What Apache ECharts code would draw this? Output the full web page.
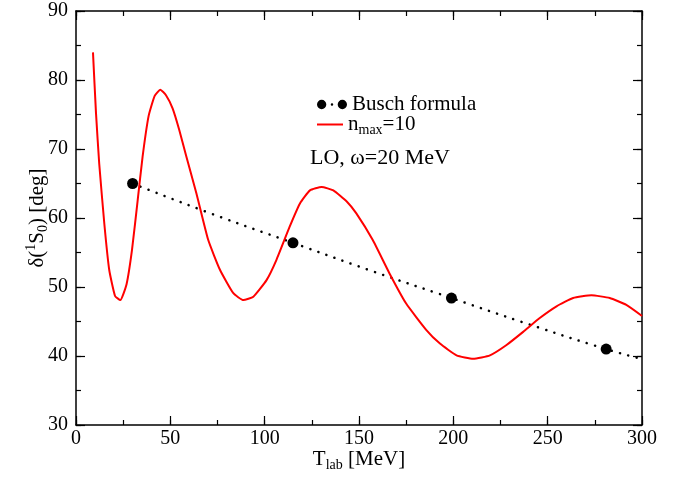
<!DOCTYPE html>
<html>
<head>
<meta charset="utf-8">
<script src="https://cdn.jsdelivr.net/npm/echarts@6/dist/echarts.min.js"></script>
<style>
  html, body { margin: 0; padding: 0; background: #fff; }
  #chart { width: 689px; height: 478px; }
</style>
</head>
<body>
<div id="chart"></div>
<script>
// n_max = 10 curve
const nmaxX = [9, 10.6, 12.3, 15, 17.6, 20.7, 23.5, 26.8, 29.7, 32.7, 35.3, 38.5, 41.7, 44.7, 47.7, 51.2, 54.7, 58.3, 63.8, 70.1, 76.3, 83.4, 88.7, 94, 101, 106.2, 113.2, 118.7, 124, 130.2, 136.4, 143.5, 148.5, 157.3, 166.1, 175, 185.6, 192.9, 201.7, 210.5, 219.4, 228.2, 237, 245.8, 254.7, 263.5, 273.2, 282.9, 291.7, 300];
const nmaxY = [84, 75.2, 67.9, 59.2, 52.5, 48.7, 48.1, 50.4, 55.4, 62.6, 68.9, 74.8, 77.7, 78.6, 77.8, 75.9, 72.8, 69.1, 63.6, 56.8, 52.5, 49.1, 48.1, 48.6, 51, 53.9, 58.7, 62.1, 64, 64.5, 64, 62.4, 60.7, 56.8, 52, 47.6, 43.8, 41.8, 40.1, 39.6, 40.1, 41.6, 43.5, 45.5, 47.2, 48.4, 48.8, 48.4, 47.4, 45.8];

// Busch formula (dotted curve + marked points)
const buschX = [30, 72, 115, 157, 199, 240, 281, 298];
const buschY = [65, 60.6, 56.4, 52.3, 48.4, 44.6, 41, 39.7];
const pointX = [30, 115, 199, 281];
const pointY = [65, 56.4, 48.4, 41];

const xTicks = [0, 50, 100, 150, 200, 250, 300];
const yTicks = [30, 40, 50, 60, 70, 80, 90];

const zip = (xs, ys) => xs.map((x, i) => [x, ys[i]]);

const font = 'Liberation Serif';
const twoDots = 'path://M0.5,5a4.5,4.5 0 1,0 9,0a4.5,4.5 0 1,0 -9,0Z M13.8,5a1.2,1.2 0 1,0 2.4,0a1.2,1.2 0 1,0 -2.4,0Z M20.5,5a4.5,4.5 0 1,0 9,0a4.5,4.5 0 1,0 -9,0Z';

// one axis per side and tick size; only the first x/y axis carries labels
function frameAxis(pos, min, max, interval, tickLen, showLine) {
    return {
        type: 'value',
        position: pos,
        min: min, max: max, interval: interval,
        axisLine: { show: showLine, onZero: false, lineStyle: { color: '#000', width: 1.5 } },
        axisTick: { show: true, inside: true, length: tickLen, lineStyle: { color: '#000', width: 1.2 } },
        axisLabel: { show: false },
        splitLine: { show: false }
    };
}

const xMain = frameAxis('bottom', 0, 300, 50, 9, true);
Object.assign(xMain, {
    name: '{a|T}{s|lab}{a| [MeV]}',
    nameLocation: 'middle',
    nameGap: 21,
    nameMoveOverlap: false,
    nameTextStyle: {
        rich: {
            a: { fontFamily: font, fontSize: 21, color: '#000' },
            s: { fontFamily: font, fontSize: 14, color: '#000', padding: [12, 0, 0, 0] }
        }
    },
    axisLabel: {
        show: true, fontFamily: font, fontSize: 20, color: '#000', margin: 4,
        formatter: v => xTicks.includes(v) ? String(v) : ''
    }
});

const yMain = frameAxis('left', 30, 90, 10, 9, true);
Object.assign(yMain, {
    name: '{a|δ(}{p|1}{a|S}{s|0}{a|) [deg]}',
    nameLocation: 'middle',
    nameGap: 26,
    nameMoveOverlap: false,
    nameTextStyle: {
        rich: {
            a: { fontFamily: font, fontSize: 21, color: '#000' },
            p: { fontFamily: font, fontSize: 14, color: '#000', padding: [0, 0, 12, 0] },
            s: { fontFamily: font, fontSize: 14, color: '#000', padding: [12, 0, 0, 0] }
        }
    },
    axisLabel: {
        show: true, fontFamily: font, fontSize: 20, color: '#000', margin: 8,
        formatter: v => yTicks.includes(v) ? String(v) : ''
    }
});

const myChart = echarts.init(document.getElementById('chart'));
const option = {
    backgroundColor: '#fff',
    animation: false,
    grid: { left: 76, right: 47, top: 11, bottom: 53, outerBoundsMode: 'none' },
    legend: [
        {
            left: 312, top: 89,
            itemWidth: 30, itemHeight: 10,
            data: [{ name: 'Busch formula', icon: twoDots }],
            textStyle: { fontFamily: font, fontSize: 21, color: '#000' }
        },
        {
            left: 312, top: 109,
            itemWidth: 26, itemHeight: 2,
            data: [{ name: 'nmax', icon: 'rect' }],
            formatter: () => '{a|n}{s|max}{a|=10}',
            textStyle: {
                fontFamily: font,
                color: '#000',
                rich: {
                    a: { fontFamily: font, fontSize: 21, color: '#000' },
                    s: { fontFamily: font, fontSize: 14, color: '#000', padding: [12, 0, 0, 0] }
                }
            }
        }
    ],
    graphic: [{
        type: 'text',
        left: 310,
        top: 147,
        style: { text: 'LO, ω=20 MeV', fontFamily: font, fontSize: 22, fill: '#000' }
    }],
    xAxis: [
        xMain,
        frameAxis('top', 0, 300, 50, 9, true),
        frameAxis('bottom', 0, 300, 25, 5, false),
        frameAxis('top', 0, 300, 25, 5, false)
    ],
    yAxis: [
        yMain,
        frameAxis('right', 30, 90, 10, 9, true),
        frameAxis('left', 30, 90, 5, 5, false),
        frameAxis('right', 30, 90, 5, 5, false)
    ],
    series: [
        {
            name: 'busch-line',
            type: 'line',
            data: zip(buschX, buschY),
            smooth: true,
            symbol: 'none',
            lineStyle: { color: '#000', width: 2.5, type: [0.1, 8.5], cap: 'round' },
            z: 2
        },
        {
            name: 'Busch formula',
            type: 'scatter',
            data: zip(pointX, pointY),
            symbol: 'circle',
            symbolSize: 11,
            itemStyle: { color: '#000', opacity: 1 },
            z: 4
        },
        {
            name: 'nmax',
            type: 'line',
            data: zip(nmaxX, nmaxY),
            smooth: 0.15,
            symbol: 'none',
            lineStyle: { color: '#ff0000', width: 2 },
            itemStyle: { color: '#ff0000' },
            z: 3
        }
    ]
};

myChart.setOption(option);
</script>
</body>
</html>
